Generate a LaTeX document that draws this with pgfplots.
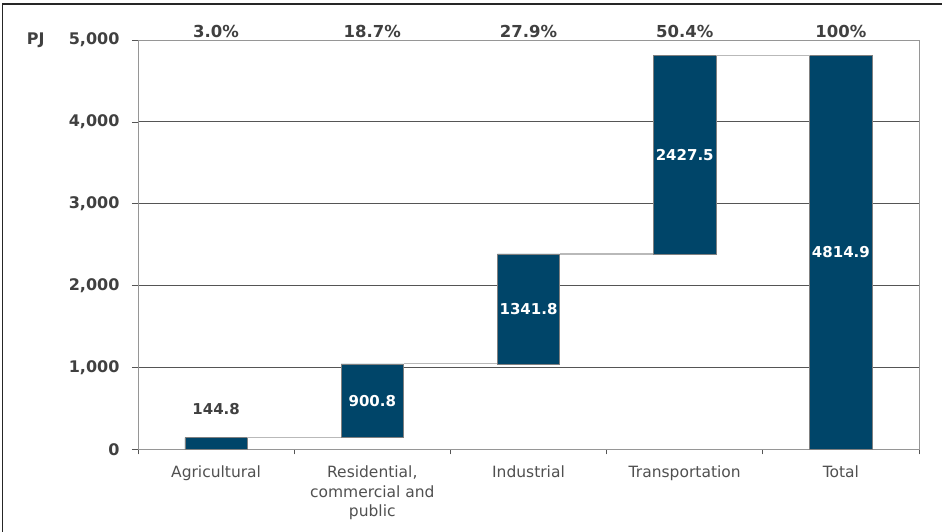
\documentclass[border=0pt]{standalone}
\usepackage{fontspec}
\setmainfont{DejaVu Sans}
\usepackage{pgfplots}
\pgfplotsset{compat=1.18}
\definecolor{barblue}{RGB}{0,69,105}
\definecolor{gridgray}{RGB}{85,85,85}
\definecolor{boxgray}{RGB}{150,150,150}
\definecolor{txtgray}{RGB}{64,64,64}
\definecolor{lblgray}{RGB}{80,80,80}
\definecolor{linkgray}{RGB}{185,185,185}

\begin{document}
\begin{tikzpicture}[x=1pt,y=1pt]
\useasboundingbox (0,0) rectangle (942,532);
\draw[line width=1.5pt,black!85] (2.5,0) -- (2.5,528) -- (942,528);
\begin{axis}[
	at={(138pt,82.5pt)}, anchor=south west,
	scale only axis, width=781pt, height=409.5pt,
	xmin=-0.5, xmax=4.5, ymin=0, ymax=5000,
	clip=false,
	tick pos=left, tick align=outside,
	axis line style={boxgray, line width=0.8pt},
	xtick={0,...,4},
	xticklabels={Agricultural,{Residential,\\commercial and\\public},Industrial,Transportation,Total},
	x tick label style={align=center, font=\fontsize{15.5}{19.5}\selectfont,
		text=lblgray, anchor=north, yshift=-7pt},
	major x tick style={draw=none},
	minor xtick={-0.5,0.5,1.5,2.5,3.5,4.5},
	minor tick length=5pt,
	minor x tick style={draw=gridgray, line width=1pt},
	ytick={0,1000,...,5000},
	yticklabels={0,{1,000},{2,000},{3,000},{4,000},{5,000}},
	y tick label style={font=\fontsize{16}{19}\selectfont\bfseries, text=txtgray, xshift=-9pt},
	major tick length=6pt,
	y tick style={draw=gridgray, line width=0.8pt},
	ymajorgrids, grid style={gridgray, line width=0.9pt},
	nodes near coords align=center,
	]
	% invisible base of each floating bar
	\addplot[ybar, bar width=0.4, bar shift=0pt, stack plots=y,
		draw=none, fill=none] coordinates {
		(0,0) (1,144.8) (2,1045.6) (3,2387.4) (4,0)};
	% visible bars
	\addplot[ybar, bar width=0.4, bar shift=0pt, stack plots=y,
		fill=barblue, draw=gray, line width=0.6pt] coordinates {
		(0,144.8) (1,900.8) (2,1341.8) (3,2427.5) (4,4814.9)};
	% connectors between bars
	\addplot[stack plots=false, sharp plot, linkgray, line width=1.2pt,
		unbounded coords=jump] coordinates {
		(0.2,144.8) (0.8,144.8) (1,nan)
		(1.2,1045.6) (1.8,1045.6) (2,nan)
		(2.2,2387.4) (2.8,2387.4) (3,nan)
		(3.2,4814.9) (3.8,4814.9)};
	% values inside the bars
	\addplot[stack plots=false, only marks, mark=none,
		nodes near coords, point meta=explicit symbolic,
		every node near coord/.append style={anchor=center, text=white,
			font=\fontsize{15}{18}\selectfont\bfseries}] coordinates {
		(1,595.2) [900.8]
		(2,1716.5) [1341.8]
		(3,3601.2) [2427.5]
		(4,2407.5) [4814.9]};
	% value above the first bar
	\addplot[stack plots=false, only marks, mark=none,
		nodes near coords, point meta=explicit symbolic,
		every node near coord/.append style={anchor=center, text=txtgray,
			font=\fontsize{15}{18}\selectfont\bfseries}] coordinates {
		(0,488) [144.8]};
	% shares on top
	\addplot[stack plots=false, only marks, mark=none,
		nodes near coords, point meta=explicit symbolic,
		every node near coord/.append style={anchor=center, text=txtgray, yshift=9pt,
			font=\fontsize{16.5}{19}\selectfont\bfseries}] coordinates {
		(0,5000) [3.0\%]
		(1,5000) [18.7\%]
		(2,5000) [27.9\%]
		(3,5000) [50.4\%]
		(4,5000) [100\%]};
	\node[anchor=east, text=txtgray, font=\fontsize{16}{19}\selectfont\bfseries]
		at (rel axis cs:0,1) [xshift=-90pt] {PJ};
\end{axis}
\end{tikzpicture}
\end{document}
